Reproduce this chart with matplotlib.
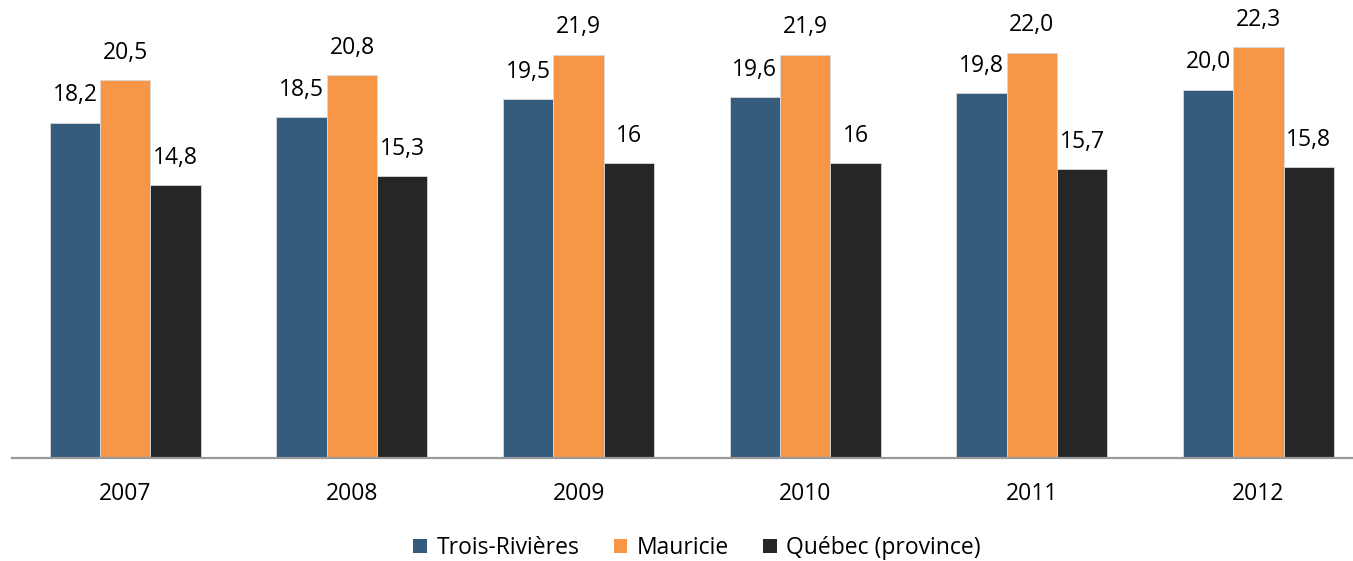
import numpy as np
import matplotlib.pyplot as plt
from matplotlib.patches import Patch

plt.rcParams['font.family'] = ['Open Sans', 'DejaVu Sans']

years = ["2007", "2008", "2009", "2010", "2011", "2012"]
series = ["Trois-Rivières", "Mauricie", "Québec (province)"]
trois_rivieres = [18.2, 18.5, 19.5, 19.6, 19.8, 20.0]
mauricie = [20.5, 20.8, 21.9, 21.9, 22.0, 22.3]
quebec = [14.8, 15.3, 16.0, 16.0, 15.7, 15.8]
labels_tr = ["18,2", "18,5", "19,5", "19,6", "19,8", "20,0"]
labels_m = ["20,5", "20,8", "21,9", "21,9", "22,0", "22,3"]
labels_q = ["14,8", "15,3", "16", "16", "15,7", "15,8"]
colors = ["#355C7D", "#F79646", "#262626"]

W, H = 1353, 561
fig = plt.figure(figsize=(W / 100, H / 100), dpi=100)
ax = fig.add_axes([12 / W, (H - 458) / H, 1 - 12 / W, (458 - 10) / H])

x = np.arange(len(years))
bw = 0.222
data = [trois_rivieres, mauricie, quebec]
labs = [labels_tr, labels_m, labels_q]
for k, (vals, lab, c) in enumerate(zip(data, labs, colors)):
    pos = x + (k - 1) * bw
    ax.bar(pos, vals, width=bw, color=c, edgecolor="#d9d9d9", linewidth=0.6, zorder=2)
    for px, v, t in zip(pos, vals, lab):
        ax.annotate(t, (px, v), xytext=(0, 11), textcoords="offset points",
                    ha="center", va="bottom", fontsize=16.5, color="black")

ax.set_xlim(-0.5, (W - 125.5) / 226.6)
ax.set_ylim(0, 448 / 18.42)
ax.set_xticks(x)
ax.set_xticklabels(years, fontsize=16.5)
ax.tick_params(axis="x", length=0, pad=17)
ax.set_yticks([])
for s in ["top", "right", "left"]:
    ax.spines[s].set_visible(False)
ax.spines["bottom"].set_color("#999999")
ax.spines["bottom"].set_linewidth(1.6)

handles = [Patch(facecolor=c, edgecolor="none") for c in colors]
fig.legend(handles, series, loc="center", bbox_to_anchor=(697 / W, 1 - 548 / H),
           ncol=3, frameon=False, fontsize=16.5, handlelength=0.6, handleheight=0.6,
           handletextpad=0.4, columnspacing=1.5)

fig.savefig("out.png", dpi=100)
